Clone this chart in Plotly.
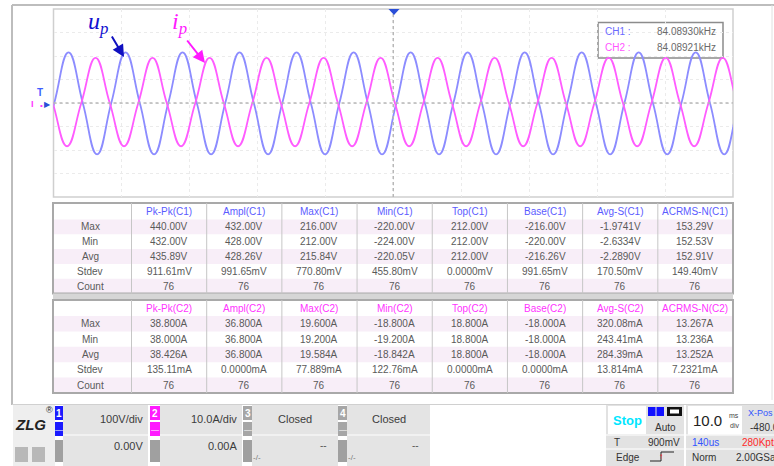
import plotly.graph_objects as go

# ---------------- data ----------------
# waveform turning points / zero crossings (time in ms, trigger at 0; 10 ms/div)
u_t = [-51.99, -49.89, -47.79, -45.69, -43.59, -41.50, -39.40, -37.30, -35.20, -33.11,
       -31.01, -28.91, -26.81, -24.72, -22.62, -20.52, -18.42, -16.33, -14.23, -12.13,
       -10.03, -7.93, -5.83, -3.74, -1.64, 0.46, 2.56, 4.65, 6.75, 8.85,
       10.95, 13.04, 15.14, 17.24, 19.34, 21.43, 23.53, 25.63, 27.73, 29.82,
       31.93, 34.02, 36.12, 38.22, 40.32, 42.41, 44.51, 46.61, 48.71, 50.80, 52.90]
u_v = [-219, 0, 215, 0, -219, 0, 215, 0, -219, 0,
       215, 0, -219, 0, 215, 0, -219, 0, 215, 0,
       -219, 0, 215, 0, -219, 0, 215, 0, -219, 0,
       215, 0, -219, 0, 215, 0, -219, 0, 215, 0,
       -219, 0, 215, 0, -219, 0, 215, 0, -219, 0, 215]
i_t = [-52.20, -50.11, -48.01, -45.91, -43.81, -41.72, -39.62, -37.52, -35.42, -33.33,
       -31.23, -29.13, -27.03, -24.94, -22.84, -20.74, -18.64, -16.55, -14.45, -12.35,
       -10.25, -8.15, -6.05, -3.96, -1.86, 0.24, 2.34, 4.43, 6.53, 8.63,
       10.73, 12.82, 14.92, 17.02, 19.12, 21.21, 23.31, 25.41, 27.51, 29.60,
       31.71, 33.80, 35.90, 38.00, 40.10, 42.19, 44.29, 46.39, 48.49, 50.59, 52.69]
i_v = [19.2, 0, -18.4, 0, 19.2, 0, -18.4, 0, 19.2, 0,
       -18.4, 0, 19.2, 0, -18.4, 0, 19.2, 0, -18.4, 0,
       19.2, 0, -18.4, 0, 19.2, 0, -18.4, 0, 19.2, 0,
       -18.4, 0, 19.2, 0, -18.4, 0, 19.2, 0, -18.4, 0,
       19.2, 0, -18.4, 0, 19.2, 0, -18.4, 0, 19.2, 0, -18.4]

freq_names = ["CH1 :", "CH2 :"]
freq_values = ["84.08930kHz", "84.08921kHz"]

stat_rows = ["Max", "Min", "Avg", "Stdev", "Count"]
c1_headers = ["Pk-Pk(C1)", "Ampl(C1)", "Max(C1)", "Min(C1)", "Top(C1)", "Base(C1)", "Avg-S(C1)", "ACRMS-N(C1)"]
c1_pkpk = ["440.00V", "432.00V", "435.89V", "911.61mV", "76"]
c1_ampl = ["432.00V", "428.00V", "428.26V", "991.65mV", "76"]
c1_max = ["216.00V", "212.00V", "215.84V", "770.80mV", "76"]
c1_min = ["-220.00V", "-224.00V", "-220.05V", "455.80mV", "76"]
c1_top = ["212.00V", "212.00V", "212.00V", "0.0000mV", "76"]
c1_base = ["-216.00V", "-220.00V", "-216.26V", "991.65mV", "76"]
c1_avgs = ["-1.9741V", "-2.6334V", "-2.2890V", "170.50mV", "76"]
c1_acrms = ["153.29V", "152.53V", "152.91V", "149.40mV", "76"]

c2_headers = ["Pk-Pk(C2)", "Ampl(C2)", "Max(C2)", "Min(C2)", "Top(C2)", "Base(C2)", "Avg-S(C2)", "ACRMS-N(C2)"]
c2_pkpk = ["38.800A", "38.000A", "38.426A", "135.11mA", "76"]
c2_ampl = ["36.800A", "36.800A", "36.800A", "0.0000mA", "76"]
c2_max = ["19.600A", "19.200A", "19.584A", "77.889mA", "76"]
c2_min = ["-18.800A", "-19.200A", "-18.842A", "122.76mA", "76"]
c2_top = ["18.800A", "18.800A", "18.800A", "0.0000mA", "76"]
c2_base = ["-18.000A", "-18.000A", "-18.000A", "0.0000mA", "76"]
c2_avgs = ["320.08mA", "243.41mA", "284.39mA", "13.814mA", "76"]
c2_acrms = ["13.267A", "13.236A", "13.252A", "7.2321mA", "76"]

ch_scale = ["100V/div", "10.0A/div", "Closed", "Closed"]
ch_offset = ["0.00V", "0.00A", "--", "--"]

# ---------------- helpers (pixel -> paper) ----------------
W, H = 774, 466
SANS = "Liberation Sans, Arial, sans-serif"


def X(p):
    return p / W


def Y(p):
    return 1 - p / H


shapes, ann = [], []


def rect(x0, y0, x1, y1, fill=None, lc=None, lw=1):
    shapes.append(dict(type="rect", xref="paper", yref="paper", x0=X(x0), x1=X(x1), y0=Y(y1), y1=Y(y0),
                       fillcolor=fill if fill else "rgba(0,0,0,0)",
                       line=dict(color=lc if lc else "rgba(0,0,0,0)", width=lw if lc else 0), layer="below"))


def hline(x0, x1, y, color, w=1, dash=None):
    shapes.append(dict(type="line", xref="paper", yref="paper", x0=X(x0), x1=X(x1), y0=Y(y), y1=Y(y),
                       line=dict(color=color, width=w, dash=dash)))


def vline(x, y0, y1, color, w=1, dash=None):
    shapes.append(dict(type="line", xref="paper", yref="paper", x0=X(x), x1=X(x), y0=Y(y0), y1=Y(y1),
                       line=dict(color=color, width=w, dash=dash)))


def txt(x, y, s, size=10, color="#4a4a4a", anchor="center", family=SANS):
    ann.append(dict(x=X(x), y=Y(y), xref="paper", yref="paper", text=s, showarrow=False,
                    font=dict(size=size, color=color, family=family), xanchor=anchor, yanchor="middle"))


# ---------------- figure ----------------
PX0, PX1, PY0, PY1 = 53.5, 733, 9, 197
fig = go.Figure()
fig.add_trace(go.Scatter(x=u_t, y=u_v, mode="lines", line=dict(color="#8c8cff", width=1.8, shape="spline", smoothing=1.3),
                         yaxis="y", showlegend=False, hoverinfo="skip"))
fig.add_trace(go.Scatter(x=i_t, y=i_v, mode="lines", line=dict(color="#ff5cff", width=1.8, shape="spline", smoothing=1.3),
                         yaxis="y2", showlegend=False, hoverinfo="skip"))

# outer frame
hline(12, 774, 5, "#bdbdbd", 2)
vline(12, 5, 405, "#bdbdbd", 2)
vline(772, 5, 400, "#e0e0e0", 1)

# plot border and centre lines
rect(PX0, PY0, PX1, PY1, None, "#cfcfcf", 1.5)
shapes.append(dict(type="line", xref="x", yref="paper", x0=0, x1=0, y0=Y(PY1), y1=Y(PY0),
                   line=dict(color="#b8b8b8", width=1.5, dash="dot")))
shapes.append(dict(type="line", xref="paper", yref="y", x0=X(PX0), x1=X(PX1), y0=0, y1=0,
                   line=dict(color="#b8b8b8", width=1.5, dash="dot")))

# trigger marker
shapes.append(dict(type="path", xref="paper", yref="paper",
                   path=f"M {X(388.5)} {Y(9)} L {X(399.5)} {Y(9)} L {X(394)} {Y(15)} Z",
                   fillcolor="#2b4fd8", line=dict(width=0)))

# left channel markers
txt(40, 92, "<b>T</b>", 10, "#3f5fff")
txt(32, 104, "<b>I</b>", 9, "#ff33ff")
txt(47, 104, "▶", 8, "#2b4fd8")
txt(41, 106, "•", 8, "#ff33ff")

# frequency box
rect(598, 22.5, 723, 58, "white", "#8c8c8c", 1.5)
for k in range(2):
    yy = 31.5 + 16 * k
    txt(603, yy, freq_names[k], 10, "#6a6aff" if k == 0 else "#ff55ff", "left")
    txt(718, yy, freq_values[k], 10, "#6a6a6a", "right")

# labels with arrows
txt(98, 23, "<i>u</i><sub><i>p</i></sub>", 24, "#1010d0", family="Liberation Serif, Times New Roman, serif")
txt(179, 23, "<i>i</i><sub><i>p</i></sub>", 24, "#ff1aff", family="Liberation Serif, Times New Roman, serif")
ann.append(dict(x=X(124), y=Y(57), xref="paper", yref="paper", ax=-13, ay=-22, text="", showarrow=True,
                arrowhead=2, arrowsize=1.2, arrowwidth=2, arrowcolor="#1010c0"))
ann.append(dict(x=X(205), y=Y(63), xref="paper", yref="paper", ax=-19, ay=-24, text="", showarrow=True,
                arrowhead=2, arrowsize=1.2, arrowwidth=2, arrowcolor="#ff1aff"))


# ---------------- tables ----------------
def draw_table(top, head_h, row_h, headers, cols, hcolor):
    edges = [53, 131.5] + [131.5 + (733 - 131.5) / 8 * k for k in range(1, 9)]
    bottom = top + head_h + row_h * 5
    rect(53, top, 733, bottom, "white")
    for r in range(5):
        if r % 2 == 0:
            y0 = top + head_h + row_h * r
            rect(53, y0, 733, y0 + row_h, "#f8eef8")
    for e in edges[1:-1]:
        vline(e, top, bottom, "#c6c6c6", 1)
    rect(53, top, 733, bottom, None, "#a9a9a9", 2)
    for c in range(8):
        cx = (edges[c + 1] + edges[c + 2]) / 2
        txt(cx, top + head_h / 2 + 0.5, headers[c], 10, hcolor)
        for r in range(5):
            txt(cx, top + head_h + row_h * (r + 0.5), cols[c][r], 10, "#5a5a5a")
    for r in range(5):
        txt(90, top + head_h + row_h * (r + 0.5), stat_rows[r], 10, "#5a5a5a")


draw_table(203, 16.5, 14.8, c1_headers,
           [c1_pkpk, c1_ampl, c1_max, c1_min, c1_top, c1_base, c1_avgs, c1_acrms], "#5b5bff")
rect(53, 293.5, 733, 300, "#d6d6d6")
draw_table(300, 16, 15.4, c2_headers,
           [c2_pkpk, c2_ampl, c2_max, c2_min, c2_top, c2_base, c2_avgs, c2_acrms], "#ff33ff")

# ---------------- bottom status bar ----------------
hline(12, 774, 404.5, "#d0d0d0", 1)
rect(13, 405, 55, 466, "#eeeeee")
txt(31, 424, "<b><i>ZLG</i></b>", 15, "#222222")
txt(50, 410, "®", 9, "#222222")
rect(15, 447, 28, 462, "#b8b8b8")
rect(32, 447, 45, 462, "#b8b8b8")

tabs = [(55, 63, 148, "#1a1aff"), (150, 160, 242, "#ff1aff"), (243, 252, 338, "#a6a6a6"), (338, 347, 430, "#a6a6a6")]
for k, (t0, t1, c1, col) in enumerate(tabs):
    rect(t1, 405, c1, 466, "#e4e4e4")
    hline(t1, c1, 435, "#f6f6f6", 1.5)
    rect(t0, 406, t1, 420, col)
    txt((t0 + t1) / 2, 413, f"<b>{k + 1}</b>", 10, "white")
    rect(t0, 422, t1, 436, col)
    txt((t0 + t1) / 2, 429, "—", 8, "white")
    rect(t0, 440, t1, 462, "#a0a0a0")
    if k < 2:
        txt(c1 - 3, 419, ch_scale[k], 11, "#3c3c3c", "right")
        txt(c1 - 3, 446, ch_offset[k], 11, "#3c3c3c", "right")
    else:
        txt((t1 + c1) / 2 + 0, 419, ch_scale[k], 11, "#3c3c3c")
        txt(c1 - 15, 445, ch_offset[k], 10, "#5a5a5a")
        txt(t1 + 5, 457, "-/-", 8, "#777777")

# trigger panel
rect(606, 405, 684, 466, "#e2e2e2")
rect(608, 406, 646, 434, "white")
txt(627, 420, "<b>Stop</b>", 13, "#00e6ff")
rect(648, 407, 655.5, 416, "#1010ff")
rect(656.5, 407, 664, 416, "#1010ff")
rect(667, 407, 682, 416, "#111111")
rect(670, 409.5, 679, 413.5, "#ffffff")
txt(665, 427, "Auto", 10, "#333333")
hline(606, 684, 435, "#f6f6f6", 1.5)
hline(606, 684, 449, "#f6f6f6", 1.5)
txt(617, 442, "T", 10, "#333333")
txt(682, 442, "900mV", 10, "#333333", "right")
txt(628, 457, "Edge", 10, "#333333")
shapes.append(dict(type="path", xref="paper", yref="paper",
                   path=f"M {X(650)} {Y(461)} L {X(661)} {Y(461)} L {X(661)} {Y(452)} L {X(674)} {Y(452)}",
                   line=dict(color="#222222", width=1)))
txt(661, 456, "↑", 8, "#ff2020")

# timebase panel
rect(686, 405, 774, 466, "#e2e2e2")
rect(688, 406, 742, 435, "white")
txt(707, 420, "10.0", 15, "#222222")
txt(734, 415, "ms", 7, "#444444")
txt(734, 425, "div", 7, "#444444")
txt(746, 413, "X-Pos", 9, "#3355ff", "left")
txt(748, 427, "-480.0us", 10, "#333333", "left")
hline(686, 774, 435, "#f6f6f6", 1.5)
hline(686, 774, 449, "#f6f6f6", 1.5)
txt(690, 442, "140us", 10, "#3355ff", "left")
txt(740, 442, "280Kpts", 10, "#ff2a2a", "left")
txt(690, 457, "Norm", 10, "#333333", "left")
txt(734, 457, "2.00GSa/s", 10, "#333333", "left")

fig.update_layout(
    width=W, height=H, margin=dict(l=0, r=0, t=0, b=0),
    paper_bgcolor="white", plot_bgcolor="white",
    font=dict(family=SANS),
    xaxis=dict(domain=[X(PX0), X(PX1)], range=[-50, 50], dtick=10, tick0=-50, showgrid=True,
               gridcolor="#ebebeb", griddash="dot", gridwidth=1, zeroline=False, showticklabels=False,
               ticks="", fixedrange=True),
    yaxis=dict(domain=[Y(PY1), Y(PY0)], range=[-400, 400], dtick=100, showgrid=True,
               gridcolor="#ebebeb", griddash="dot", gridwidth=1, zeroline=False, showticklabels=False,
               ticks="", fixedrange=True),
    yaxis2=dict(overlaying="y", range=[-40, 40], showgrid=False, zeroline=False, showticklabels=False,
                ticks="", fixedrange=True),
    shapes=shapes, annotations=ann, showlegend=False,
)
fig.write_html("out.html", config={"displayModeBar": False},
               post_script="document.body.style.margin='0';document.body.style.padding='0';")
